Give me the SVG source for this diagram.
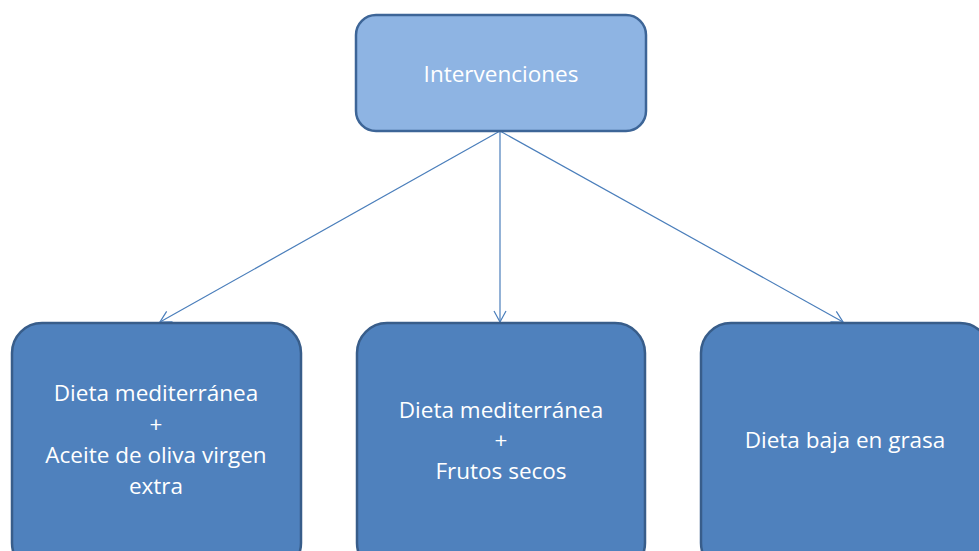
<svg xmlns="http://www.w3.org/2000/svg" width="979" height="551" viewBox="0 0 979 551">
<defs>
<style>
.top{fill:#8eb4e3;stroke:#3d6597;stroke-width:2.5}
.box{fill:#4f81bd;stroke:#385d8a;stroke-width:2.5}
.t{font-family:"Open Sans","Liberation Sans",sans-serif;font-size:22.5px;fill:#ffffff;text-anchor:middle}
.c{stroke:#4a7ebb;stroke-width:1.2;fill:none}
</style>
<marker id="a" markerWidth="14" markerHeight="14" refX="12" refY="7" orient="auto" markerUnits="userSpaceOnUse">
<path d="M1,1 L12,7 L1,13" fill="none" stroke="#4a7ebb" stroke-width="1.2"/>
</marker>
</defs>
<rect width="979" height="551" fill="#ffffff"/>
<g id="connectors">
<line class="c" x1="500" y1="131" x2="160" y2="322" marker-end="url(#a)"/>
<line class="c" x1="500" y1="131" x2="500" y2="322" marker-end="url(#a)"/>
<line class="c" x1="500" y1="131" x2="843" y2="322" marker-end="url(#a)"/>
</g>
<g id="n0">
<rect class="top" x="356" y="15" width="290" height="116" rx="20"/>
<text class="t" x="501" y="82">Intervenciones</text>
</g>
<g id="n1">
<rect class="box" x="12" y="323" width="289" height="250" rx="30"/>
<text class="t" x="156" y="401">Dieta mediterránea</text>
<text class="t" x="156" y="432">+</text>
<text class="t" x="156" y="463">Aceite de oliva virgen</text>
<text class="t" x="156" y="494">extra</text>
</g>
<g id="n2">
<rect class="box" x="357" y="323" width="288" height="250" rx="30"/>
<text class="t" x="501" y="418">Dieta mediterránea</text>
<text class="t" x="501" y="448">+</text>
<text class="t" x="501" y="479">Frutos secos</text>
</g>
<g id="n3">
<rect class="box" x="701" y="323" width="289" height="250" rx="30"/>
<text class="t" x="845" y="448">Dieta baja en grasa</text>
</g>
</svg>
